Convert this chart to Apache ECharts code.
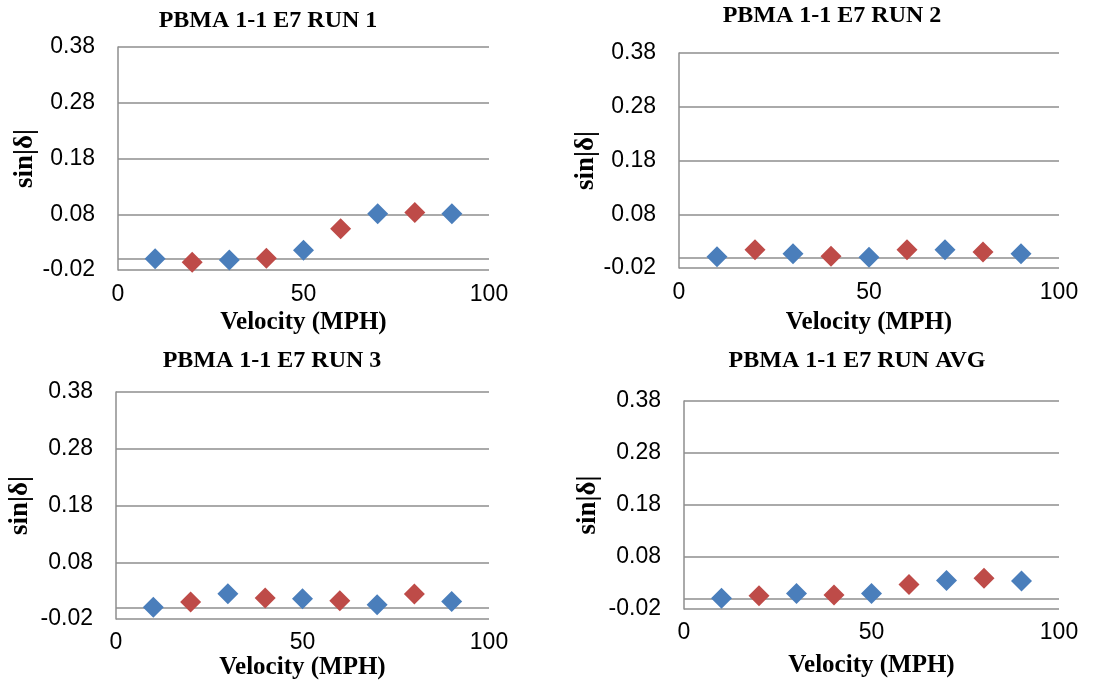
<!DOCTYPE html>
<html>
<head>
<meta charset="utf-8">
<script src="https://cdn.jsdelivr.net/npm/echarts@6/dist/echarts.min.js"></script>
<style>
  html, body { margin: 0; padding: 0; background: #ffffff; }
  #chart { width: 1117px; height: 683px; }
</style>
</head>
<body>
<div id="chart"></div>
<script>
// Loss tangent sin|δ| against wind velocity, three runs plus their average
const speeds = [10, 20, 30, 40, 50, 60, 70, 80, 90];
const run1 = [0.000, -0.006, -0.002, 0.001, 0.0155, 0.054, 0.081, 0.083, 0.081];
const run2 = [0.001, 0.014, 0.0067, 0.002, 0.000, 0.014, 0.014, 0.0098, 0.0067];
const run3 = [0.0005, 0.0099, 0.0245, 0.017, 0.0158, 0.0122, 0.0052, 0.024, 0.011];
const runAvg = [0.0005, 0.0056, 0.010, 0.0069, 0.010, 0.027, 0.035, 0.039, 0.034];
const yTicks = [-0.02, 0.08, 0.18, 0.28, 0.38];
const titles = ['PBMA 1-1 E7 RUN 1', 'PBMA 1-1 E7 RUN 2', 'PBMA 1-1 E7 RUN 3', 'PBMA 1-1 E7 RUN AVG'];
const runs = [run1, run2, run3, runAvg];

const BLUE = '#4a7ebb';
const RED = '#be4b48';
const GRID = '#8e8e8e';
const SERIF = '"Liberation Serif", "Times New Roman", serif';
const SANS = '"Liberation Sans", Arial, sans-serif';

// panel geometry: plot rectangle, title anchor and label gaps
const panels = [
  { left: 118, right: 628, top: 47, height: 223, tx: 268, ty: 9, yGap: 79, xGap: 40, xMargin: 13 },
  { left: 679, right: 58, top: 53, height: 215, tx: 832, ty: 4, yGap: 79, xGap: 42, xMargin: 13 },
  { left: 116, right: 628, top: 392, height: 227, tx: 272, ty: 349, yGap: 82, xGap: 34, xMargin: 12 },
  { left: 684, right: 58, top: 401, height: 208, tx: 857, ty: 349, yGap: 82, xGap: 44, xMargin: 12 }
];

const option = {
  animation: false,
  backgroundColor: '#ffffff',
  title: panels.map((p, i) => ({
    text: titles[i],
    left: p.tx,
    top: p.ty,
    textAlign: 'center',
    padding: 0,
    textStyle: { fontFamily: SERIF, fontWeight: 'bold', fontSize: 24, color: '#000000' }
  })),
  grid: panels.map(p => ({ left: p.left, right: p.right, top: p.top, height: p.height, containLabel: false })),
  xAxis: panels.map((p, i) => ({
    type: 'value',
    gridIndex: i,
    min: 0,
    max: 100,
    interval: 50,
    name: 'Velocity (MPH)',
    nameLocation: 'middle',
    nameGap: p.xGap,
    nameTextStyle: { fontFamily: SERIF, fontWeight: 'bold', fontSize: 25, color: '#000000' },
    axisLine: { show: false, onZero: false },
    axisTick: { show: false },
    splitLine: { show: false },
    axisLabel: { margin: p.xMargin, fontFamily: SANS, fontSize: 23, color: '#000000' }
  })),
  yAxis: panels.map((p, i) => ({
    type: 'value',
    gridIndex: i,
    min: -0.02,
    max: 0.38,
    name: 'sin|δ|',
    nameLocation: 'middle',
    nameGap: p.yGap,
    nameTextStyle: { fontFamily: SERIF, fontWeight: 'bold', fontSize: 27, color: '#000000' },
    axisLine: { show: true, lineStyle: { color: GRID, width: 1.5 } },
    axisTick: { show: false, customValues: yTicks },
    axisLabel: {
      customValues: yTicks,
      margin: 23,
      fontFamily: SANS,
      fontSize: 23,
      color: '#000000',
      formatter: v => v.toFixed(2)
    },
    splitLine: { show: true, lineStyle: { color: GRID, width: 1.5 } }
  })),
  series: runs.map((vals, i) => ({
    type: 'scatter',
    xAxisIndex: i,
    yAxisIndex: i,
    symbol: 'diamond',
    symbolSize: 21,
    data: speeds.map((s, k) => [s, vals[k]]),
    itemStyle: { opacity: 1, color: params => (params.dataIndex % 2 === 0 ? BLUE : RED) },
    // horizontal axis crossing at zero
    markLine: {
      silent: true,
      symbol: ['none', 'none'],
      label: { show: false },
      lineStyle: { color: GRID, width: 1.5, type: 'solid' },
      data: [{ yAxis: 0 }],
      z: 1
    },
    z: 3
  }))
};

const chart = echarts.init(document.getElementById('chart'), null, { renderer: 'canvas' });
chart.setOption(option);
</script>
</body>
</html>
